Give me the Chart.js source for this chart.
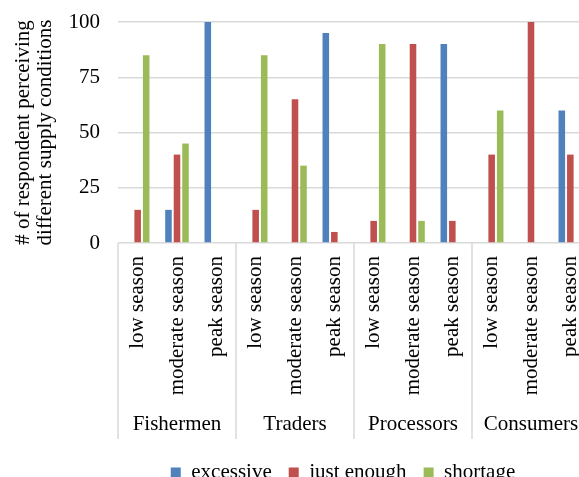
<!DOCTYPE html>
<html>
<head>
<meta charset="utf-8">
<script src="https://cdn.jsdelivr.net/npm/chart.js@4"></script>
<style>
  html, body { margin: 0; padding: 0; background: #fff; overflow: hidden; }
  #wrap { width: 686px; height: 493px; }
</style>
</head>
<body>
<div id="wrap"><canvas id="c" width="686" height="493"></canvas></div>
<script>
// Respondent groups and the season split inside each group
const groups = ['Fishermen', 'Traders', 'Processors', 'Consumers'];
const seasons = ['low season', 'moderate season', 'peak season'];
const categories = groups.flatMap(() => seasons);

// Number of respondents per supply condition (Fishermen | Traders | Processors | Consumers)
const excessive  = [0, 15, 100,   0,  0, 95,   0,  0, 90,   0,   0, 60];
const justEnough = [15, 40,  0,  15, 65,  5,  10, 90, 10,  40, 100, 40];
const shortage   = [85, 45,  0,  85, 35,  0,  90, 10,  0,  60,   0,  0];

const yTicks = [0, 25, 50, 75, 100];
const yTitle = ['# of respondent perceiving', 'different supply conditions'];

const SERIF = "'Liberation Serif', 'Times New Roman', serif";
const FONT = { family: SERIF, size: 21 };
const GRID = '#d9d9d9';
const DIVIDER_DEPTH = 36; // how far the dividers reach into the group-label row

// Vertical dividers between the respondent groups, spanning both label rows
const groupDividers = {
  id: 'groupDividers',
  afterDraw(chart) {
    const x = chart.scales.x, g = chart.scales.groups, ctx = chart.ctx;
    ctx.save();
    ctx.strokeStyle = GRID;
    ctx.lineWidth = 1.5;
    for (let i = 0; i <= categories.length; i += seasons.length) {
      const px = x.getPixelForValue(i - 0.5);
      ctx.beginPath();
      ctx.moveTo(px, x.top);
      ctx.lineTo(px, g.top + DIVIDER_DEPTH);
      ctx.stroke();
    }
    ctx.restore();
  }
};

new Chart(document.getElementById('c'), {
  type: 'bar',
  data: {
    labels: categories,
    datasets: [
      { label: 'excessive',   data: excessive,  backgroundColor: '#4F81BD' },
      { label: 'just enough', data: justEnough, backgroundColor: '#C0504D' },
      { label: 'shortage',    data: shortage,   backgroundColor: '#9BBB59' }
    ]
  },
  options: {
    responsive: false,
    animation: false,
    layout: { padding: { top: 22, left: 0, right: 0, bottom: 0 } },
    datasets: { bar: { categoryPercentage: 0.65, barPercentage: 0.77 } },
    plugins: {
      tooltip: { enabled: false },
      legend: {
        position: 'bottom',
        labels: {
          font: FONT, color: '#000',
          boxWidth: 10, boxHeight: 10, padding: 17
        }
      }
    },
    scales: {
      x: {
        type: 'category', position: 'bottom', weight: 1, offset: true,
        grid: { display: false, drawTicks: false },
        border: { display: false },
        ticks: {
          font: FONT, color: '#000', autoSkip: false,
          minRotation: 90, maxRotation: 90, padding: 13
        },
        afterFit: s => { s.height = 160; }
      },
      groups: {
        type: 'category', labels: groups, position: 'bottom', weight: 2, offset: true,
        grid: { display: false, drawTicks: false },
        border: { display: false },
        ticks: { font: FONT, color: '#000', autoSkip: false, maxRotation: 0, padding: 9 },
        afterFit: s => { s.height = 42; }
      },
      y: {
        min: 0, max: 100,
        grid: {
          color: GRID, lineWidth: 1.5,
          drawTicks: true, tickLength: 18, tickColor: 'rgba(0,0,0,0)'
        },
        border: { display: false },
        ticks: { font: FONT, color: '#000', padding: 0 },
        afterBuildTicks: s => { s.ticks = yTicks.map(v => ({ value: v })); },
        title: {
          display: true, text: yTitle, color: '#000',
          font: { family: SERIF, size: 21, lineHeight: 1.05 },
          padding: { top: 12, bottom: 0 }
        },
        afterFit: s => { s.width = 118; }
      },
      rightSpace: {
        type: 'linear', position: 'right', display: true,
        grid: { display: false, drawTicks: false },
        border: { display: false },
        ticks: { display: false },
        afterFit: s => { s.width = 96; }
      }
    }
  },
  plugins: [groupDividers]
});
</script>
</body>
</html>
